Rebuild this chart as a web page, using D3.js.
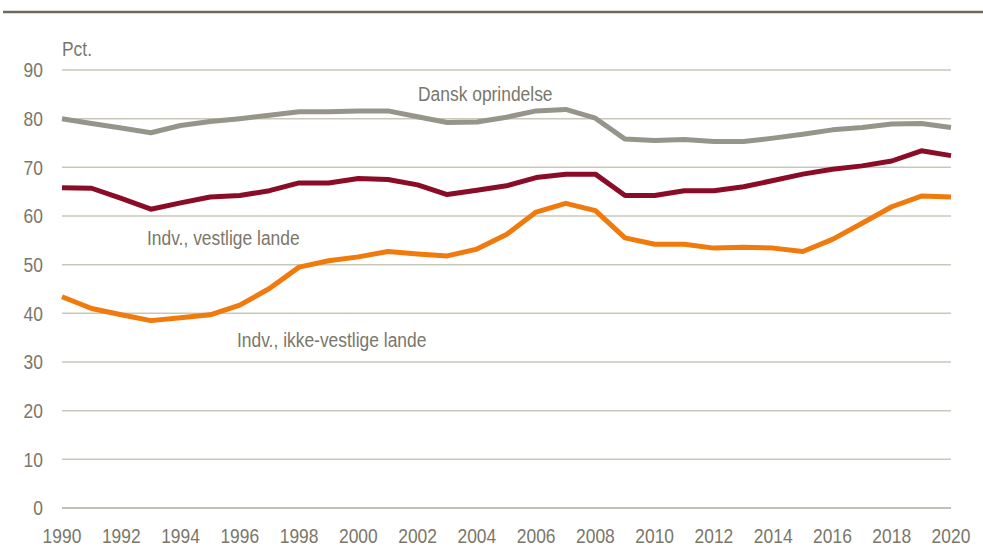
<!DOCTYPE html>
<html>
<head>
<meta charset="utf-8">
<script src="https://cdn.jsdelivr.net/npm/d3@7"></script>
<style>
  body { margin: 0; background: #fff; }
  svg text { font-family: "Liberation Sans", Arial, sans-serif; font-size: 21px; fill: #7a776a; }
</style>
</head>
<body>
<svg id="chart" width="983" height="553"></svg>
<script>
// år og serier (pct.)
const years = d3.range(1990, 2021);
const dansk = [80.0, 79.0, 78.1, 77.1, 78.6, 79.4, 80.0, 80.7, 81.4, 81.4, 81.6,
  81.6, 80.4, 79.2, 79.3, 80.3, 81.6, 81.9, 80.1, 75.8, 75.5,
  75.7, 75.3, 75.3, 76.0, 76.8, 77.7, 78.2, 78.9, 79.0, 78.2];
const vestlige = [65.8, 65.7, 63.6, 61.4, 62.7, 63.9, 64.2, 65.2, 66.8, 66.8, 67.7,
  67.5, 66.4, 64.4, 65.3, 66.2, 67.9, 68.6, 68.6, 64.2, 64.2,
  65.2, 65.2, 66.0, 67.3, 68.6, 69.6, 70.3, 71.3, 73.4, 72.4];
const ikkeVestlige = [43.4, 41.0, 39.7, 38.5, 39.1, 39.7, 41.7, 45.1, 49.5, 50.8, 51.6,
  52.7, 52.2, 51.8, 53.2, 56.2, 60.8, 62.6, 61.1, 55.5, 54.2,
  54.2, 53.4, 53.6, 53.4, 52.7, 55.2, 58.5, 61.9, 64.1, 63.9];
const yTicks = [0, 10, 20, 30, 40, 50, 60, 70, 80, 90];
const xTicks = d3.range(1990, 2021, 2);

const series = [
  { name: "Dansk oprindelse", values: dansk, color: "#96958a", lx: 418, ly: 101 },
  { name: "Indv., vestlige lande", values: vestlige, color: "#8a0c26", lx: 147, ly: 245 },
  { name: "Indv., ikke-vestlige lande", values: ikkeVestlige, color: "#f07a0c", lx: 237, ly: 347 }
];

const svg = d3.select("#chart");
const x = d3.scaleLinear().domain([1990, 2020]).range([62, 951]);
const y = d3.scaleLinear().domain([0, 90]).range([508, 70]);
const narrow = 0.83; // smal skrift

// øverste streg
svg.append("line")
  .attr("x1", 3).attr("x2", 983)
  .attr("y1", 12).attr("y2", 12)
  .attr("stroke", "#6d6a5a")
  .attr("stroke-width", 2.5);

// gitterlinjer
svg.append("g")
  .selectAll("line")
  .data(yTicks)
  .enter()
  .append("line")
  .attr("x1", x(1990)).attr("x2", x(2020))
  .attr("y1", d => y(d)).attr("y2", d => y(d))
  .attr("stroke", d => d === 0 ? "#aeab9c" : "#c9c7ba")
  .attr("stroke-width", 1.5);

// y-akse tekst
svg.append("g")
  .selectAll("text")
  .data(yTicks)
  .enter()
  .append("text")
  .attr("transform", d => `translate(43,${y(d)}) scale(${narrow},1)`)
  .attr("dy", "0.35em")
  .attr("text-anchor", "end")
  .text(d => d);

svg.append("text")
  .attr("transform", `translate(62,56) scale(${narrow},1)`)
  .text("Pct.");

// x-akse tekst
svg.append("g")
  .selectAll("text")
  .data(xTicks)
  .enter()
  .append("text")
  .attr("transform", d => `translate(${x(d)},543) scale(${narrow},1)`)
  .attr("text-anchor", "middle")
  .text(d => d);

// linjer
const line = d3.line()
  .x((d, i) => x(years[i]))
  .y(d => y(d));

svg.append("g")
  .selectAll("path")
  .data(series)
  .enter()
  .append("path")
  .attr("d", d => line(d.values))
  .attr("fill", "none")
  .attr("stroke", d => d.color)
  .attr("stroke-width", 5)
  .attr("stroke-linejoin", "round");

// serie-etiketter
svg.append("g")
  .selectAll("text")
  .data(series)
  .enter()
  .append("text")
  .attr("transform", d => `translate(${d.lx},${d.ly}) scale(${narrow},1)`)
  .text(d => d.name);
</script>
</body>
</html>
